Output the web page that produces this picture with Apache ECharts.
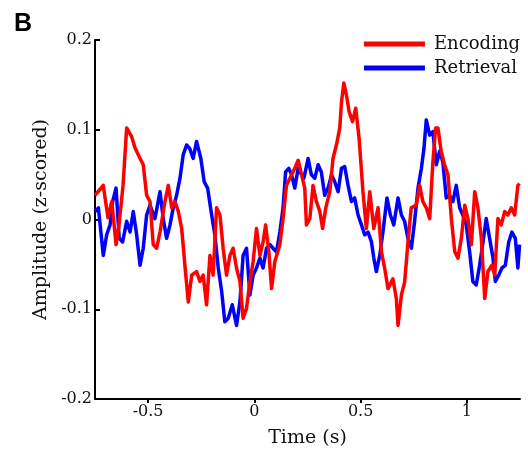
<!DOCTYPE html>
<html>
<head>
<meta charset="utf-8">
<style>
  html, body { margin: 0; padding: 0; background: #fff; }
  #chart { width: 528px; height: 456px; }
</style>
<script src="https://cdn.jsdelivr.net/npm/echarts@6/dist/echarts.min.js"></script>
</head>
<body>
<div id="chart"></div>
<script>
// Encoding trace: time (s) and amplitude (z-scored)
const encTime = [-0.750,-0.711,-0.689,-0.671,-0.651,-0.637,-0.618,-0.601,-0.577,-0.562,-0.538,-0.523,-0.507,-0.491,-0.476,-0.460,-0.444,-0.421,-0.405,-0.389,-0.374,-0.358,-0.342,-0.327,-0.311,-0.295,-0.272,-0.256,-0.241,-0.225,-0.209,-0.194,-0.178,-0.162,-0.147,-0.131,-0.115,-0.100,-0.084,-0.068,-0.053,-0.037,-0.021,-0.006,0.010,0.026,0.041,0.053,0.068,0.081,0.096,0.120,0.135,0.151,0.175,0.190,0.206,0.222,0.237,0.245,0.261,0.276,0.292,0.308,0.321,0.336,0.355,0.370,0.386,0.402,0.410,0.421,0.433,0.446,0.462,0.477,0.493,0.511,0.527,0.543,0.562,0.582,0.598,0.613,0.629,0.652,0.668,0.676,0.692,0.707,0.723,0.738,0.762,0.778,0.793,0.809,0.825,0.840,0.853,0.864,0.879,0.895,0.911,0.927,0.943,0.958,0.974,0.990,1.005,1.021,1.037,1.052,1.068,1.084,1.099,1.118,1.131,1.146,1.162,1.178,1.193,1.209,1.225,1.240,1.248];
const encValue = [0.027,0.038,0.002,0.020,-0.028,-0.006,0.038,0.102,0.092,0.080,0.068,0.061,0.027,0.020,-0.028,-0.032,-0.014,0.020,0.038,0.013,0.020,0.009,-0.010,-0.051,-0.092,-0.062,-0.058,-0.069,-0.062,-0.095,-0.040,-0.062,0.013,0.005,-0.032,-0.062,-0.040,-0.032,-0.054,-0.069,-0.110,-0.099,-0.069,-0.047,-0.010,-0.040,-0.025,-0.006,-0.036,-0.077,-0.047,-0.028,0.001,0.038,0.050,0.057,0.066,0.050,0.035,-0.006,0.001,0.038,0.020,0.009,-0.010,0.013,0.031,0.068,0.083,0.102,0.131,0.152,0.139,0.120,0.109,0.124,0.090,0.031,-0.010,0.031,-0.010,0.013,-0.036,-0.054,-0.077,-0.066,-0.088,-0.118,-0.084,-0.070,-0.025,0.013,0.016,0.038,0.020,0.013,0.001,0.064,0.102,0.102,0.076,0.061,0.050,0.001,-0.036,-0.043,-0.021,0.016,0.001,-0.028,0.031,0.013,-0.021,-0.088,-0.058,-0.051,-0.062,0.001,-0.006,0.009,0.005,0.013,0.005,0.038,0.040];

// Retrieval trace: time (s) and amplitude (z-scored)
const retTime = [-0.750,-0.734,-0.711,-0.695,-0.679,-0.667,-0.651,-0.636,-0.620,-0.601,-0.585,-0.570,-0.554,-0.538,-0.523,-0.507,-0.491,-0.468,-0.444,-0.429,-0.413,-0.397,-0.382,-0.366,-0.350,-0.335,-0.319,-0.304,-0.288,-0.272,-0.264,-0.252,-0.236,-0.220,-0.201,-0.186,-0.170,-0.154,-0.139,-0.123,-0.104,-0.084,-0.068,-0.053,-0.037,-0.021,-0.006,0.010,0.026,0.041,0.057,0.073,0.088,0.104,0.120,0.135,0.147,0.162,0.175,0.190,0.206,0.222,0.233,0.253,0.268,0.284,0.300,0.315,0.331,0.347,0.363,0.378,0.394,0.410,0.425,0.441,0.457,0.472,0.488,0.504,0.519,0.535,0.551,0.562,0.574,0.590,0.605,0.624,0.640,0.656,0.676,0.692,0.707,0.723,0.739,0.754,0.770,0.786,0.798,0.809,0.825,0.840,0.856,0.872,0.887,0.903,0.918,0.934,0.950,0.966,0.981,0.997,1.013,1.028,1.044,1.060,1.076,1.091,1.107,1.123,1.134,1.150,1.165,1.181,1.197,1.212,1.228,1.240,1.248];
const retValue = [0.009,0.013,-0.040,-0.017,-0.006,0.020,0.035,-0.021,-0.025,-0.002,-0.014,0.009,-0.017,-0.051,-0.032,0.005,0.016,0.001,0.031,0.001,-0.021,-0.006,0.013,0.027,0.046,0.072,0.083,0.079,0.068,0.087,0.089,0.068,0.042,0.035,0.005,-0.017,-0.054,-0.080,-0.114,-0.110,-0.095,-0.118,-0.092,-0.040,-0.032,-0.084,-0.062,-0.054,-0.043,-0.054,-0.032,-0.028,-0.032,-0.036,-0.014,0.013,0.053,0.057,0.050,0.035,0.057,0.050,0.046,0.068,0.050,0.046,0.061,0.053,0.027,0.035,0.050,0.042,0.031,0.057,0.059,0.038,0.020,0.024,0.005,-0.006,-0.017,-0.014,-0.025,-0.043,-0.058,-0.040,-0.014,0.024,0.005,-0.006,0.024,0.005,-0.002,-0.021,-0.032,-0.002,0.035,0.057,0.079,0.111,0.094,0.098,0.061,0.076,0.064,0.024,0.027,0.020,0.038,0.013,0.005,-0.006,-0.036,-0.069,-0.073,-0.051,-0.025,0.001,-0.021,-0.043,-0.069,-0.062,-0.054,-0.051,-0.025,-0.014,-0.021,-0.054,-0.028];

// Axis ticks
const xTicks = [-0.5, 0, 0.5, 1];
const yTicks = [-0.2, -0.1, 0, 0.1, 0.2];

const zip = (xs, ys) => xs.map((x, i) => [x, ys[i]]);
const serif = 'DejaVu Serif';

const chart = echarts.init(document.getElementById('chart'), null, { renderer: 'canvas' });

chart.setOption({
  animation: false,
  backgroundColor: '#ffffff',
  grid: { left: 95, right: 8, top: 40, bottom: 57, containLabel: false },
  graphic: [{
    type: 'text',
    left: 14,
    top: 12,
    style: { text: 'B', font: 'bold 25px "Liberation Sans", Arial, sans-serif', fill: '#000' }
  }],
  legend: {
    orient: 'vertical',
    right: 3,
    top: 29,
    itemWidth: 61,
    itemHeight: 5,
    itemGap: 4,
    icon: 'rect',
    textStyle: { fontFamily: serif, fontSize: 18, color: '#111', lineHeight: 20, padding: [0, 0, 0, 4] },
    data: ['Encoding', 'Retrieval']
  },
  xAxis: {
    type: 'value',
    min: -0.75,
    max: 1.25,
    name: 'Time (s)',
    nameLocation: 'middle',
    nameGap: 30,
    nameTextStyle: { fontFamily: serif, fontSize: 19, color: '#111' },
    splitLine: { show: false },
    axisLine: { onZero: false, lineStyle: { color: '#000', width: 2 } },
    axisTick: { show: true, inside: false, length: 4, customValues: xTicks, lineStyle: { color: '#000', width: 2 } },
    axisLabel: {
      customValues: xTicks,
      margin: 5,
      fontFamily: serif,
      fontSize: 16,
      color: '#111',
      formatter: v => String(v)
    }
  },
  yAxis: {
    type: 'value',
    min: -0.2,
    max: 0.2,
    interval: 0.1,
    name: 'Amplitude (z-scored)',
    nameLocation: 'middle',
    nameGap: 32,
    nameTextStyle: { fontFamily: serif, fontSize: 19, color: '#111' },
    splitLine: { show: false },
    axisLine: { show: true, onZero: false, lineStyle: { color: '#000', width: 2 } },
    axisTick: { show: true, inside: true, length: 5, customValues: yTicks, lineStyle: { color: '#000', width: 2 } },
    axisLabel: {
      customValues: yTicks,
      margin: 3,
      fontFamily: serif,
      fontSize: 16,
      color: '#111',
      formatter: v => String(Math.round(v * 10) / 10)
    }
  },
  series: [
    {
      name: 'Encoding',
      type: 'line',
      data: zip(encTime, encValue),
      showSymbol: false,
      symbol: 'none',
      color: '#ff0000',
      lineStyle: { color: '#ff0000', width: 3.5, join: 'round' },
      z: 3
    },
    {
      name: 'Retrieval',
      type: 'line',
      data: zip(retTime, retValue),
      showSymbol: false,
      symbol: 'none',
      color: '#0000ff',
      lineStyle: { color: '#0000ff', width: 3.5, join: 'round' },
      z: 2
    }
  ]
});
</script>
</body>
</html>
